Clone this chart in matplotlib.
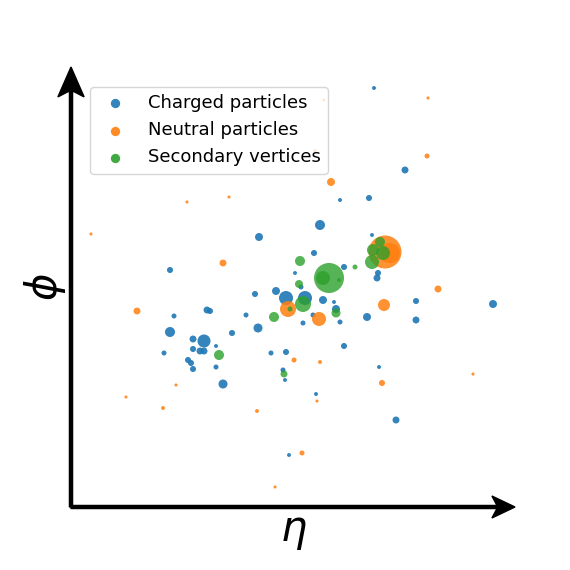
import matplotlib
matplotlib.use("Agg")
import matplotlib.pyplot as plt

# charged particles (eta, phi, marker area)
charged_eta = [0.81, 1.12, 0.47, 0.76, 0.27, -0.34, 0.79, 0.21, -1.23, 0.02,
               0.51, 0.85, 0.84, 0.08, -0.38, -0.17, -0.07, 0.12, 0.30, 0.41,
               0.43, 0.20, 0.47, 0.10, -0.47, -0.35, 0.74, 1.23, 1.23, 2.00,
               0.51, -0.07, -0.22, -0.10, -0.08, 0.86, 0.23, 1.03, -0.04, -0.86,
               -0.83, -1.19, -1.23, -1.00, -0.89, -0.61, -1.29, -1.00, -0.93, -0.89,
               -0.77, -1.05, -1.02, -0.77, -1.00, -0.70]
charged_phi = [1.99, 1.17, 0.87, 0.89, 0.62, 0.50, 0.52, 0.34, 0.17, 0.14,
               0.20, 0.14, 0.09, 0.00, -0.07, -0.04, -0.11, -0.11, -0.13, -0.15,
               -0.22, -0.28, -0.35, -0.36, -0.28, -0.41, -0.30, -0.14, -0.33, -0.17,
               -0.59, -0.65, -0.66, -0.83, -0.93, -0.80, -1.07, -1.33, -1.68, -0.23,
               -0.24, -0.29, -0.45, -0.52, -0.54, -0.46, -0.66, -0.62, -0.64, -0.64,
               -0.59, -0.73, -0.76, -0.80, -0.82, -0.97]
charged_size = [8, 25, 8, 19, 52, 33, 8, 19, 19, 8,
                19, 19, 25, 13, 19, 33, 102, 102, 33, 8,
                33, 13, 13, 13, 13, 42, 33, 19, 25, 33,
                19, 19, 13, 13, 8, 8, 8, 25, 8, 25,
                19, 13, 52, 25, 88, 19, 13, 19, 25, 25,
                8, 19, 19, 13, 19, 42]

# neutral particles
neutral_eta = [1.35, 0.31, 0.22, 1.34, 0.38, -1.06, -0.64, -2.02, -0.70, 0.92,
               0.97, 1.45, -1.56, -0.05, 0.26, 0.91, 0.01, 0.27, 0.89, 1.80,
               0.24, -1.17, -1.67, -1.30, -0.36, 0.09, -0.18]
neutral_phi = [1.89, 1.87, 1.36, 1.31, 1.05, 0.85, 0.90, 0.53, 0.24, 0.35,
               0.34, -0.02, -0.24, -0.22, -0.32, -0.18, -0.73, -0.75, -0.96, -0.87,
               -1.14, -0.98, -1.10, -1.21, -1.24, -1.66, -2.00]
neutral_size = [5, 5, 8, 13, 33, 5, 5, 5, 25, 565,
                207, 25, 25, 133, 102, 75, 13, 8, 19, 5,
                5, 5, 5, 8, 8, 13, 5]

# secondary vertices
vertex_eta = [0.07, 0.36, 0.30, 0.46, 0.62, 0.87, 0.80, 0.90, 0.79, 0.06,
              0.10, -0.03, -0.19, 0.43, -0.74, -0.09]
vertex_phi = [0.26, 0.09, 0.09, 0.07, 0.20, 0.45, 0.37, 0.34, 0.25, 0.03,
              -0.17, -0.22, -0.30, -0.26, -0.68, -0.87]
vertex_size = [52, 467, 102, 8, 13, 52, 75, 102, 102, 33,
               133, 13, 52, 42, 52, 25]

fig = plt.figure(figsize=(5.7, 5.7), dpi=100)
ax = fig.add_axes([71 / 570, 63 / 570, 444 / 570, 440 / 570])

ax.scatter(charged_eta, charged_phi, s=charged_size, color="tab:blue",
           alpha=0.9, linewidths=0, label="Charged particles")
ax.scatter(neutral_eta, neutral_phi, s=neutral_size, color="tab:orange",
           alpha=0.85, linewidths=0, label="Neutral particles")
ax.scatter(vertex_eta, vertex_phi, s=vertex_size, color="tab:green",
           alpha=0.8, linewidths=0, label="Secondary vertices")

ax.set_xlim(-2.22, 2.22)
ax.set_ylim(-2.20, 2.20)
ax.set_xticks([])
ax.set_yticks([])
for sp in ax.spines.values():
    sp.set_visible(False)

# axis arrows
ax.arrow(0, 0, 1, 0, transform=ax.transAxes, width=0.007, head_width=0.05,
         head_length=0.052, overhang=0.22, length_includes_head=True,
         color="black", clip_on=False)
ax.arrow(0, 0, 0, 1, transform=ax.transAxes, width=0.007, head_width=0.059,
         head_length=0.068, overhang=0.2, length_includes_head=True,
         color="black", clip_on=False)

ax.set_xlabel(r"$\eta$", fontsize=30, labelpad=2)
ax.set_ylabel(r"$\phi$", fontsize=30, labelpad=2)

leg = ax.legend(loc="upper left", bbox_to_anchor=(90 / 570, 1 - 87 / 570),
                bbox_transform=fig.transFigure, borderaxespad=0, fontsize=13)
for h in leg.legend_handles:
    h.set_sizes([45])
    h.set_alpha(0.9)

fig.savefig("out.png", dpi=100)
